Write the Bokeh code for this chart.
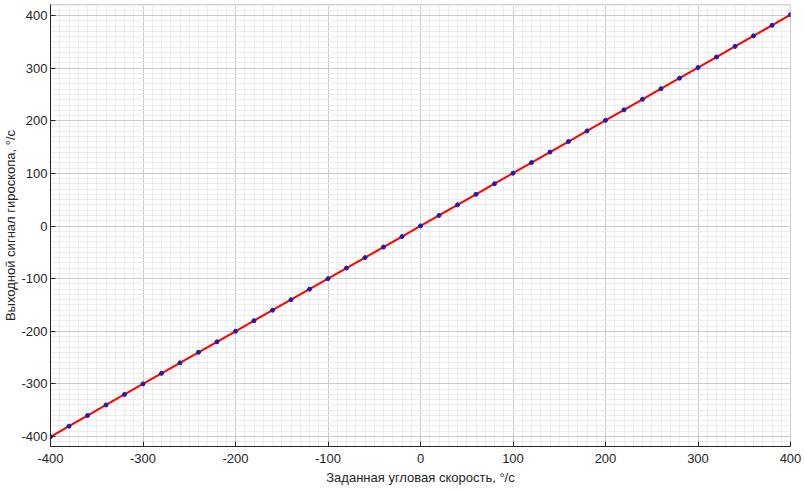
from bokeh.plotting import figure
from bokeh.models import Range1d, FixedTicker, CustomJSTickFormatter
from bokeh.embed import file_html
from bokeh.resources import INLINE

set_rate = [-400, -380, -360, -340, -320, -300, -280, -260, -240, -220, -200,
            -180, -160, -140, -120, -100, -80, -60, -40, -20, 0,
            20, 40, 60, 80, 100, 120, 140, 160, 180, 200,
            220, 240, 260, 280, 300, 320, 340, 360, 380, 400]
gyro_out = [-400.5, -380.3, -360.2, -340.1, -320.0, -300.0, -280.0, -260.0, -240.0, -220.0, -200.0,
            -180.0, -160.0, -140.0, -120.0, -100.0, -80.0, -60.0, -40.0, -20.0, 0.2,
            20.2, 40.3, 60.3, 80.4, 100.4, 120.5, 140.6, 160.6, 180.7, 200.8,
            220.8, 240.9, 261.0, 281.0, 301.1, 321.2, 341.3, 361.4, 381.5, 401.7]
x_ticks = [-400, -300, -200, -100, 0, 100, 200, 300, 400]
y_ticks = [-400, -300, -200, -100, 0, 100, 200, 300, 400]

FONT = "Liberation Sans"
TXT = "#262626"

p = figure(frame_width=740, frame_height=442, output_backend="svg", toolbar_location=None,
           x_range=Range1d(-400, 400), y_range=Range1d(-419, 421),
           min_border_left=10, min_border_right=11, min_border_top=4, min_border_bottom=10)

p.line(set_rate, gyro_out, line_color="#ff0000", line_width=2)
p.scatter(set_rate, gyro_out, size=4, fill_color="#1c1cb0", line_color="#1c1cb0")

for ax, ticks in ((p.xaxis[0], x_ticks), (p.yaxis[0], y_ticks)):
    ax.ticker = FixedTicker(ticks=ticks, minor_ticks=list(range(-420, 421, 10)))
    ax.formatter = CustomJSTickFormatter(code="return tick.toString();")
    ax.major_label_text_font = FONT
    ax.major_label_text_font_size = "13px"
    ax.major_label_text_color = TXT
    ax.axis_label_text_font = FONT
    ax.axis_label_text_font_size = "13px"
    ax.axis_label_text_font_style = "normal"
    ax.axis_label_text_color = TXT
    ax.axis_line_color = "#262626"
    ax.major_tick_in = 5
    ax.major_tick_out = 0
    ax.minor_tick_in = 0
    ax.minor_tick_out = 0
    ax.major_tick_line_color = "#262626"

p.xaxis.axis_label = "Заданная угловая скорость, °/с"
p.yaxis.axis_label = "Выходной сигнал гироскопа, °/с"
p.xaxis.axis_label_standoff = 4
p.yaxis.axis_label_standoff = 0
p.xaxis.major_label_standoff = 7
p.yaxis.major_label_standoff = 3

p.grid.grid_line_color = "#cccccc"
p.grid.grid_line_alpha = 1
p.grid.minor_grid_line_color = "#ececec"
p.grid.minor_grid_line_alpha = 1
p.outline_line_color = "#d0d0d0"

open("out.html", "w").write(file_html(p, INLINE))
